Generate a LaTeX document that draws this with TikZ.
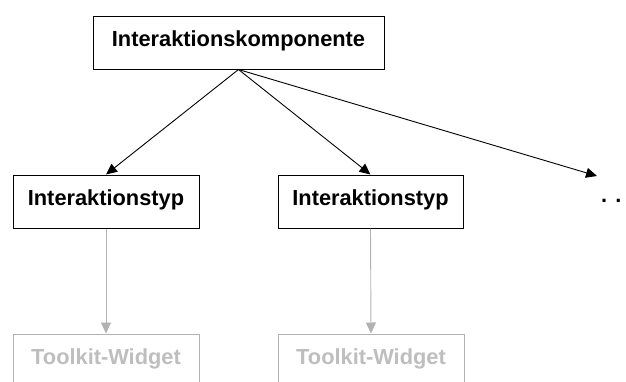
\documentclass[tikz,border=0pt]{standalone}
\usepackage{fontspec}
\setmainfont{Liberation Sans}
\usetikzlibrary{arrows.meta}
\definecolor{faint}{RGB}{190,190,190}
\definecolor{faintline}{RGB}{178,178,178}
\begin{document}
\begin{tikzpicture}[x=1pt,y=-1pt,
  box/.style={draw=black,line width=1pt,inner sep=0pt,
    text height=0.72em,text depth=0pt,
    font=\fontsize{21.8}{24}\selectfont\bfseries},
  lower/.style={box,draw=faintline,text=faint},
  link/.style={line width=0.9pt,-{Triangle[length=11pt,width=10pt]}},
  faintlink/.style={link,draw=faintline,-{Triangle[length=11pt,width=10pt,fill=faintline]}}]
  \useasboundingbox (0,0) rectangle (626,381);
  \clip (0,0) rectangle (626,381);
  % top component
  \node[box,minimum width=291pt,minimum height=53pt] (ik) at (238.5,42.5) {Interaktionskomponente};
  % interaction types
  \node[box,minimum width=186pt,minimum height=53pt] (t1) at (106,201.5) {Interaktionstyp};
  \node[box,minimum width=185pt,minimum height=53pt] (t2) at (370.5,201.5) {Interaktionstyp};
  % further types, elided
  \node[font=\fontsize{21.8}{24}\selectfont\bfseries,anchor=base west,inner sep=0pt] (more) at (601,202) {. .};
  \coordinate (c3) at (597,176);
  % toolkit widgets
  \node[lower,minimum width=186pt,minimum height=53pt] (w1) at (106,360.5) {Toolkit-Widget};
  \node[lower,minimum width=186pt,minimum height=53pt] (w2) at (371,360.5) {Toolkit-Widget};
  % connectors
  \draw[link] (ik.south) -- (t1.north);
  \draw[link] (ik.south) -- (t2.north);
  \draw[link] (ik.south) -- (c3);
  \draw[faintlink] (t1.south) -- (w1.north);
  \draw[faintlink] (t2.south) -- (w2.north);
\end{tikzpicture}
\end{document}
